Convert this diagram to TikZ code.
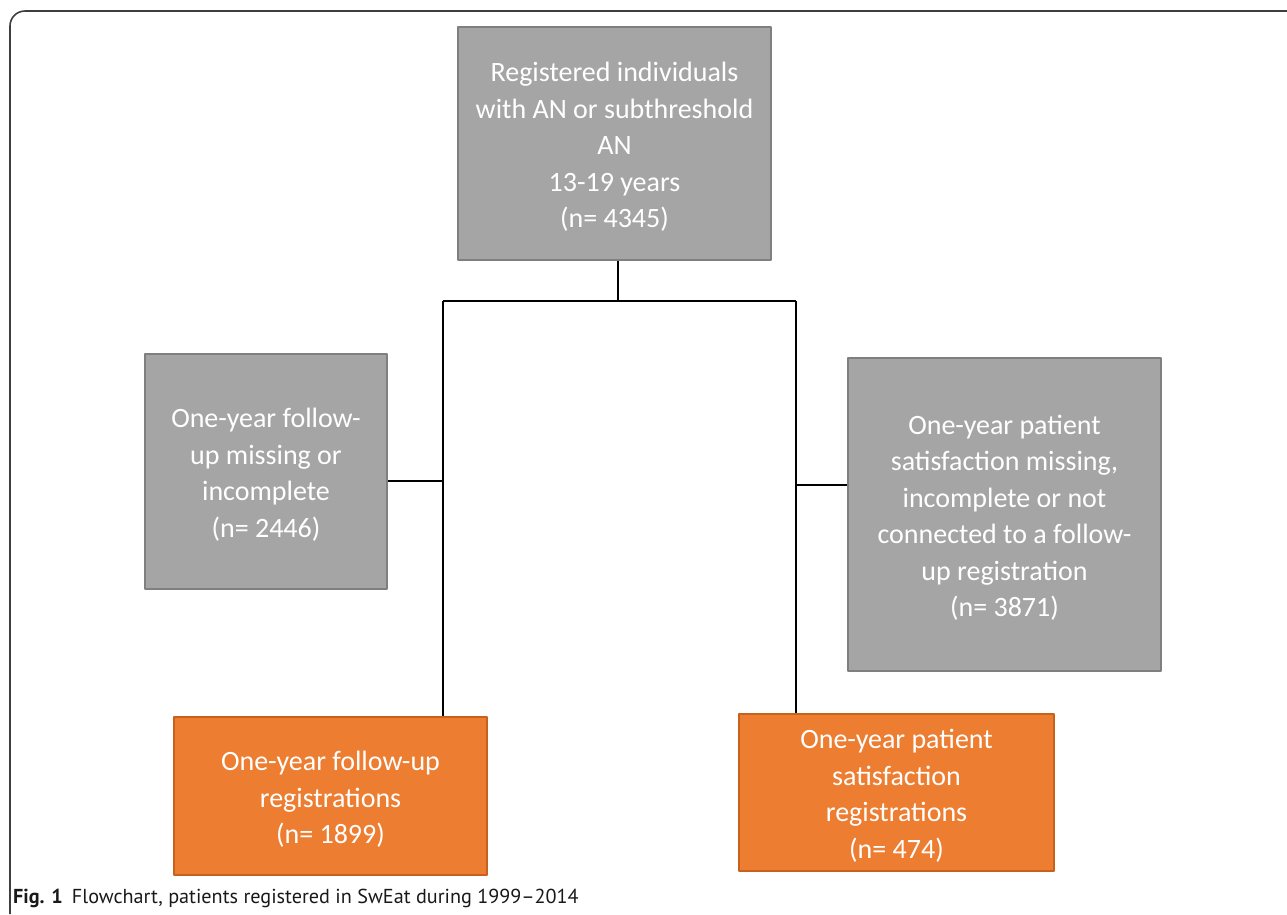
\documentclass[tikz,border=0pt]{standalone}
\usepackage{fontspec}
\setmainfont{PT Sans}
\newfontfamily\boxfont{Carlito}
\definecolor{boxgray}{HTML}{A5A5A5}
\definecolor{edgegray}{HTML}{7F7F7F}
\definecolor{boxorange}{HTML}{ED7D31}
\definecolor{edgeorange}{HTML}{C8611E}
\definecolor{framegray}{HTML}{3F3F3F}
\tikzset{
  flowbox/.style={line width=2.5pt,text=white,align=center,
    font={\boxfont\fontsize{28}{36.5}\selectfont}},
  greybox/.style={flowbox,draw=edgegray,fill=boxgray},
  orangebox/.style={flowbox,draw=edgeorange,fill=boxorange},
  link/.style={line width=1.6pt,black}
}
\newcommand{\dropline}{\rule{0pt}{26pt}}
\begin{document}
\begin{tikzpicture}[x=1pt,y=-1pt,line join=round]
  \useasboundingbox (0,0) rectangle (1287,914);
  \draw[framegray,line width=1.6pt,rounded corners=15pt] (10,914) -- (10,11) -- (1287,11);
  \node[greybox,minimum width=313pt,minimum height=233pt] (reg) at (614.5,143.5)
    {\dropline Registered individuals\\with AN or subthreshold\\AN\\13-19 years\\(n= 4345)};
  \node[greybox,minimum width=242pt,minimum height=235pt] (fumiss) at (266,471.5)
    {\dropline One-year follow-\\up missing or\\incomplete\\(n= 2446)};
  \node[greybox,minimum width=313pt,minimum height=313pt] (psmiss) at (1004.5,514.5)
    {\dropline One-year patient\\satisfaction missing,\\incomplete or not\\connected to a follow-\\up registration\\(n= 3871)};
  \node[orangebox,minimum width=313pt,minimum height=158pt] (fu) at (330.5,796)
    {\dropline One-year follow-up\\registrations\\(n= 1899)};
  \node[orangebox,minimum width=315pt,minimum height=157pt] (ps) at (896.5,792.5)
    {\dropline One-year patient\\satisfaction\\registrations\\(n= 474)};
  \coordinate (jl) at (443,301);
  \coordinate (jr) at (796,301);
  \coordinate (kl) at (443,481);
  \coordinate (kr) at (796,485);
  \draw[link] (reg.south -| 618,0) -- (jl -| 618,0);
  \draw[link] (jl) -- (jr);
  \draw[link] (jl) -- (jl |- fu.north);
  \draw[link] (jr) -- (jr |- ps.north);
  \draw[link] (kl) -- (kl -| fumiss.east);
  \draw[link] (kr) -- (kr -| psmiss.west);
  \node[anchor=base west,inner sep=0pt,text=black!90,font=\fontsize{20.2}{23}\selectfont] (cap) at (13,903)
    {\textbf{Fig. 1}\hspace{9pt}Flowchart, patients registered in SwEat during 1999--2014};
\end{tikzpicture}
\end{document}
